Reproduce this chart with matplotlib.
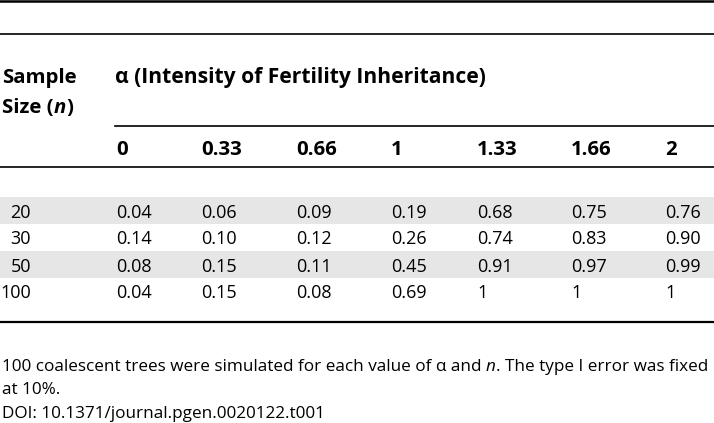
import matplotlib.pyplot as plt
from matplotlib.patches import Rectangle

# table contents
alphas = ["0", "0.33", "0.66", "1", "1.33", "1.66", "2"]
sample_sizes = ["20", "30", "50", "100"]
power_n20 = ["0.04", "0.06", "0.09", "0.19", "0.68", "0.75", "0.76"]
power_n30 = ["0.14", "0.10", "0.12", "0.26", "0.74", "0.83", "0.90"]
power_n50 = ["0.08", "0.15", "0.11", "0.45", "0.91", "0.97", "0.99"]
power_n100 = ["0.04", "0.15", "0.08", "0.69", "1", "1", "1"]
rows = [power_n20, power_n30, power_n50, power_n100]

plt.rcParams["font.family"] = ["Open Sans", "DejaVu Sans"]

W, H = 714, 423
fig = plt.figure(figsize=(W / 100, H / 100), dpi=100)
ax = fig.add_axes([0, 0, 1, 1])
ax.set_xlim(0, W)
ax.set_ylim(H, 0)
ax.axis("off")

# layout (pixels)
col_x = [116, 201, 296, 391, 477, 571, 665]
row_y0 = 197
row_h = 27
fs_head = 14.7
fs = 13
fs_note = 12.35


def runs(x, y, parts, size, weight="bold"):
    # draw consecutive pieces of text with different styles on one line
    r = fig.canvas.get_renderer()
    for txt, style in parts:
        t = ax.text(x, y, txt, fontsize=size, fontweight=weight, fontstyle=style,
                    ha="left", va="baseline", color="black")
        bb = t.get_window_extent(renderer=r)
        x += bb.width


# rules
ax.plot([0, W], [1.5, 1.5], color="black", lw=1.8)
ax.plot([0, W], [34, 34], color="black", lw=1.2)
ax.plot([115, W], [126, 126], color="black", lw=1.2)
ax.plot([0, W], [167, 167], color="black", lw=1.2)
ax.plot([0, W], [322, 322], color="black", lw=1.6)

# header
runs(2, 83, [("Sample", "normal")], fs_head)
runs(2, 113, [("Size (", "normal"), ("n", "italic"), (")", "normal")], fs_head)
runs(115, 83, [("α (Intensity of Fertility Inheritance)", "normal")], fs_head + 0.4)
for x, a in zip(col_x, alphas):
    ax.text(x, 155, a, fontsize=fs_head, fontweight="bold", ha="left", va="baseline")

# body
for i, (n, vals) in enumerate(zip(sample_sizes, rows)):
    top = row_y0 + i * row_h
    if i % 2 == 0:
        ax.add_patch(Rectangle((0, top), W, row_h, color="#e6e6e6", lw=0))
    yb = top + 20.5
    ax.text(31, yb, n, fontsize=fs, ha="right", va="baseline")
    for x, v in zip(col_x, vals):
        ax.text(x, yb, v, fontsize=fs, ha="left", va="baseline")

# footnotes
runs(2, 371, [("100 coalescent trees were simulated for each value of α and ", "normal"),
              ("n", "italic"), (". The type I error was fixed", "normal")], fs_note, "normal")
ax.text(2, 394.5, "at 10%.", fontsize=fs_note, ha="left", va="baseline")
ax.text(2, 418, "DOI: 10.1371/journal.pgen.0020122.t001", fontsize=fs_note, ha="left", va="baseline")

fig.savefig("out.png", dpi=100)
